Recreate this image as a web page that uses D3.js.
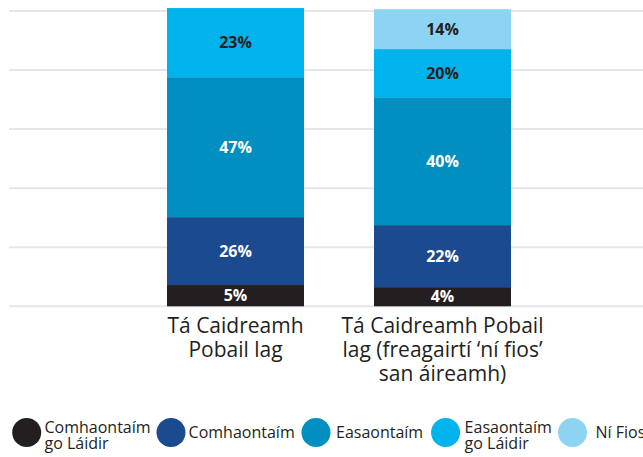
<!DOCTYPE html>
<html>
<head>
<meta charset="utf-8">
<script src="https://cdn.jsdelivr.net/npm/d3@7/dist/d3.min.js"></script>
<style>
  html, body { margin: 0; padding: 0; background: #ffffff; overflow: hidden; }
  svg { display: block; font-family: "Open Sans", sans-serif; }
</style>
</head>
<body>
<svg id="chart" width="643" height="457"></svg>
<script>
// ---- data ----
const categories = [
  ["Tá Caidreamh", "Pobail lag"],
  ["Tá Caidreamh Pobail", "lag (freagairtí ‘ní fios’", "san áireamh)"]
];
const seriesNames = ["Comhaontaím go Láidir", "Comhaontaím", "Easaontaím", "Easaontaím go Láidir", "Ní Fios"];
const legendLines = [["Comhaontaím", "go Láidir"], ["Comhaontaím"], ["Easaontaím"], ["Easaontaím", "go Láidir"], ["Ní Fios"]];
const seriesColors = ["#231f20", "#1b4a8e", "#008fc0", "#00b3ec", "#8dd4f3"];
const labelColors = ["#ffffff", "#ffffff", "#ffffff", "#231f20", "#231f20"];
// segment heights as drawn in the picture (per category, per series)
const stronglyAgree = [7.2, 6.5];
const agree = [23.0, 21.0];
const disagree = [47.4, 43.3];
const stronglyDisagree = [23.4, 16.3];
const dontKnow = [0, 13.5];
// printed labels
const labelsStronglyAgree = ["5%", "4%"];
const labelsAgree = ["26%", "22%"];
const labelsDisagree = ["47%", "40%"];
const labelsStronglyDisagree = ["23%", "20%"];
const labelsDontKnow = ["", "14%"];
const yTicks = [0, 20, 40, 60, 80, 100];

const seriesValues = [stronglyAgree, agree, disagree, stronglyDisagree, dontKnow];
const seriesLabels = [labelsStronglyAgree, labelsAgree, labelsDisagree, labelsStronglyDisagree, labelsDontKnow];

// ---- layout ----
const svg = d3.select("#chart");
const x = d3.scaleBand().domain(d3.range(categories.length))
  .range([132, 546]).paddingInner(0.3382).paddingOuter(0.1691);
const y = d3.scaleLinear().domain([0, 100]).range([306.3, 11]);

// gridlines
svg.append("g").selectAll("line").data(yTicks).join("line")
  .attr("x1", 9).attr("x2", 643)
  .attr("y1", d => y(d)).attr("y2", d => y(d))
  .attr("stroke", "#e6e6e6").attr("stroke-width", 2);

// stacked bars
const rows = categories.map((c, i) => {
  const r = { idx: i };
  seriesNames.forEach((s, j) => { r[j] = seriesValues[j][i]; });
  return r;
});
const stack = d3.stack().keys(d3.range(seriesNames.length))(rows);

const layers = svg.append("g").selectAll("g").data(stack).join("g")
  .attr("fill", (d, j) => seriesColors[j]);
layers.selectAll("rect").data(d => d).join("rect")
  .attr("x", d => x(d.data.idx))
  .attr("width", x.bandwidth())
  .attr("y", d => y(d[1]))
  .attr("height", d => y(d[0]) - y(d[1]));

// value labels
stack.forEach((layer, j) => {
  svg.append("g").selectAll("text").data(layer).join("text")
    .attr("x", d => x(d.data.idx) + x.bandwidth() / 2)
    .attr("y", d => (y(d[0]) + y(d[1])) / 2)
    .attr("dy", "0.36em")
    .attr("text-anchor", "middle")
    .attr("font-size", 16)
    .attr("font-weight", 700)
    .attr("fill", labelColors[j])
    .text(d => seriesLabels[j][d.data.idx]);
});

// category labels
categories.forEach((lines, i) => {
  const t = svg.append("text")
    .attr("text-anchor", "middle")
    .attr("font-size", 21)
    .attr("fill", "#231f20");
  lines.forEach((ln, k) => {
    t.append("tspan")
      .attr("x", x(i) + x.bandwidth() / 2)
      .attr("y", 333 + k * 24)
      .text(ln);
  });
});

// legend
const legendX = [26.7, 171, 316, 445.6, 572.5];
const legendTextX = [44.5, 188.6, 336, 464.6, 595.5];
const legendCy = 432.5;
const lg = svg.append("g");
seriesNames.forEach((s, j) => {
  lg.append("circle")
    .attr("cx", legendX[j]).attr("cy", legendCy).attr("r", 14.5)
    .attr("fill", seriesColors[j]);
  const t = lg.append("text")
    .attr("font-size", 16)
    .attr("fill", "#231f20");
  const lines = legendLines[j];
  const startY = lines.length === 1 ? legendCy + 5.8 : 432.5;
  lines.forEach((ln, k) => {
    t.append("tspan")
      .attr("x", legendTextX[j])
      .attr("y", startY + k * 16.5)
      .text(ln);
  });
});
</script>
</body>
</html>
